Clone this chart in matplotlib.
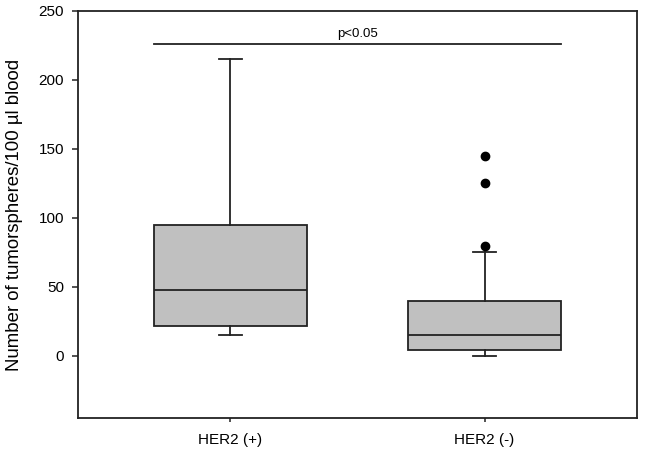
import matplotlib
matplotlib.use("Agg")
import matplotlib.pyplot as plt

plt.rcParams['font.family'] = ['Liberation Sans', 'DejaVu Sans']

categories = ["HER2 (+)", "HER2 (-)"]
q1 = [22, 4]
median = [48, 15]
q3 = [95, 40]
whisker_low = [15, 0]
whisker_high = [215, 75]
outliers = [[], [80, 125, 145]]
p_text = "p<0.05"
sig_level = 226
yticks = [0, 50, 100, 150, 200, 250]

stats = []
for i, c in enumerate(categories):
    stats.append(dict(label=c, q1=q1[i], med=median[i], q3=q3[i],
                      whislo=whisker_low[i], whishi=whisker_high[i],
                      fliers=outliers[i]))

fig = plt.figure(figsize=(6.5, 4.54), dpi=100)
ax = fig.add_axes([0.12, 0.0793, 0.86, 0.8965])

lc = '#222222'
ax.bxp(stats, positions=[1, 2], widths=0.6, patch_artist=True,
       boxprops=dict(facecolor='#c0c0c0', edgecolor=lc, linewidth=1.3),
       medianprops=dict(color=lc, linewidth=1.3),
       whiskerprops=dict(color=lc, linewidth=1.3),
       capprops=dict(color=lc, linewidth=1.3),
       capwidths=0.09,
       flierprops=dict(marker='o', markerfacecolor='black', markeredgecolor='black', markersize=6))

ax.plot([0.7, 2.3], [sig_level, sig_level], color=lc, linewidth=1.3)
ax.text(1.5, sig_level + 3, p_text, ha='center', va='bottom', fontsize=9.5)

ax.set_xlim(0.4, 2.6)
ax.set_ylim(-45, 250)
ax.set_yticks(yticks)
ax.set_xticks([1, 2])
ax.set_xticklabels(categories, fontsize=11)
ax.tick_params(axis='y', labelsize=11, length=4, width=1.1, color=lc, pad=6)
ax.tick_params(axis='x', length=3, width=1.1, color=lc, pad=8)
ax.set_ylabel("Number of tumorspheres/100 µl blood", fontsize=13.4, labelpad=11)
for s in ax.spines.values():
    s.set_linewidth(1.3)
    s.set_color(lc)

fig.savefig("out.png", dpi=100)
